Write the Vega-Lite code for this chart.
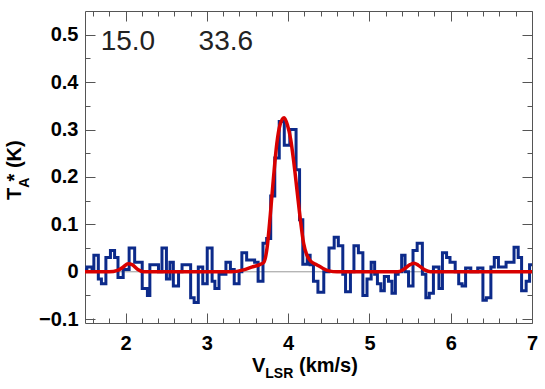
{
  "$schema": "https://vega.github.io/schema/vega-lite/v6.json",
  "width": 447,
  "height": 312,
  "autosize": "none",
  "padding": {"left": 85, "top": 11, "right": 13, "bottom": 66},
  "config": {
    "view": {"stroke": "#555", "strokeWidth": 1},
    "axis": {"domain": false, "grid": false, "tickColor": "#555", "tickWidth": 1, "labelFont": "Liberation Sans", "labelFontWeight": "bold", "labelFontSize": 20, "labelColor": "#000"},
    "text": {"font": "Liberation Sans"}
  },
  "datasets": {
    "one": [{}],
    "spectrum": [
      {"v": 1.5, "T": 0.005}, {"v": 1.523, "T": 0.01}, {"v": 1.587, "T": 0.005}, {"v": 1.609, "T": 0.035},
      {"v": 1.664, "T": -0.015}, {"v": 1.702, "T": -0.025}, {"v": 1.757, "T": 0.03}, {"v": 1.813, "T": 0.045},
      {"v": 1.864, "T": 0.03}, {"v": 1.906, "T": -0.012}, {"v": 1.97, "T": 0.005}, {"v": 2.043, "T": 0.05},
      {"v": 2.111, "T": 0.02}, {"v": 2.204, "T": -0.035}, {"v": 2.268, "T": -0.05}, {"v": 2.298, "T": 0.015},
      {"v": 2.404, "T": 0.0}, {"v": 2.447, "T": 0.05}, {"v": 2.502, "T": -0.015}, {"v": 2.545, "T": 0.02},
      {"v": 2.587, "T": -0.03}, {"v": 2.651, "T": 0.0}, {"v": 2.694, "T": 0.015}, {"v": 2.8, "T": -0.055},
      {"v": 2.843, "T": -0.065}, {"v": 2.894, "T": 0.01}, {"v": 2.949, "T": -0.025}, {"v": 3.004, "T": 0.05},
      {"v": 3.064, "T": -0.02}, {"v": 3.098, "T": -0.035}, {"v": 3.149, "T": -0.005}, {"v": 3.234, "T": 0.02},
      {"v": 3.289, "T": 0.005}, {"v": 3.336, "T": -0.025}, {"v": 3.396, "T": 0.0}, {"v": 3.43, "T": 0.04},
      {"v": 3.489, "T": 0.025}, {"v": 3.587, "T": 0.02}, {"v": 3.63, "T": -0.02}, {"v": 3.69, "T": 0.06},
      {"v": 3.735, "T": 0.07}, {"v": 3.785, "T": 0.16}, {"v": 3.835, "T": 0.24}, {"v": 3.89, "T": 0.317},
      {"v": 3.952, "T": 0.267}, {"v": 4.02, "T": 0.3}, {"v": 4.097, "T": 0.215}, {"v": 4.14, "T": 0.11},
      {"v": 4.18, "T": 0.016}, {"v": 4.235, "T": 0.035}, {"v": 4.27, "T": 0.015}, {"v": 4.311, "T": -0.02},
      {"v": 4.366, "T": -0.043}, {"v": 4.438, "T": 0.0}, {"v": 4.502, "T": 0.05}, {"v": 4.566, "T": 0.073},
      {"v": 4.617, "T": 0.055}, {"v": 4.672, "T": -0.005}, {"v": 4.706, "T": -0.042}, {"v": 4.766, "T": 0.0},
      {"v": 4.809, "T": 0.055}, {"v": 4.864, "T": 0.04}, {"v": 4.919, "T": -0.05}, {"v": 4.97, "T": -0.015},
      {"v": 5.021, "T": 0.02}, {"v": 5.064, "T": -0.005}, {"v": 5.098, "T": -0.025}, {"v": 5.14, "T": -0.04},
      {"v": 5.183, "T": -0.01}, {"v": 5.234, "T": -0.02}, {"v": 5.277, "T": -0.045}, {"v": 5.319, "T": -0.005},
      {"v": 5.353, "T": 0.0}, {"v": 5.396, "T": 0.035}, {"v": 5.438, "T": 0.0}, {"v": 5.481, "T": -0.03},
      {"v": 5.536, "T": 0.045}, {"v": 5.587, "T": 0.06}, {"v": 5.651, "T": -0.005}, {"v": 5.694, "T": -0.055},
      {"v": 5.736, "T": -0.045}, {"v": 5.787, "T": 0.01}, {"v": 5.855, "T": -0.035}, {"v": 5.898, "T": 0.04},
      {"v": 5.949, "T": 0.03}, {"v": 5.991, "T": 0.02}, {"v": 6.055, "T": 0.0}, {"v": 6.098, "T": -0.025},
      {"v": 6.14, "T": -0.03}, {"v": 6.183, "T": 0.008}, {"v": 6.247, "T": 0.0}, {"v": 6.332, "T": 0.008},
      {"v": 6.396, "T": -0.06}, {"v": 6.438, "T": -0.055}, {"v": 6.494, "T": 0.01}, {"v": 6.536, "T": 0.03},
      {"v": 6.587, "T": 0.01}, {"v": 6.681, "T": 0.02}, {"v": 6.779, "T": 0.052}, {"v": 6.83, "T": 0.03},
      {"v": 6.872, "T": -0.04}, {"v": 6.928, "T": -0.02}, {"v": 6.97, "T": 0.015}, {"v": 7.0, "T": 0.015}
    ],
    "fit": [
      {"v": 1.5, "T": 0.0}, {"v": 1.8, "T": 0.0}, {"v": 1.9, "T": 0.003}, {"v": 1.97, "T": 0.01},
      {"v": 2.03, "T": 0.017}, {"v": 2.08, "T": 0.015}, {"v": 2.15, "T": 0.005}, {"v": 2.22, "T": 0.0},
      {"v": 3.3, "T": 0.0}, {"v": 3.45, "T": 0.004}, {"v": 3.55, "T": 0.01}, {"v": 3.65, "T": 0.015},
      {"v": 3.7, "T": 0.02}, {"v": 3.74, "T": 0.05}, {"v": 3.78, "T": 0.12}, {"v": 3.82, "T": 0.2},
      {"v": 3.86, "T": 0.27}, {"v": 3.9, "T": 0.31}, {"v": 3.95, "T": 0.325}, {"v": 3.99, "T": 0.31},
      {"v": 4.03, "T": 0.28}, {"v": 4.07, "T": 0.23}, {"v": 4.11, "T": 0.17}, {"v": 4.15, "T": 0.11},
      {"v": 4.19, "T": 0.06}, {"v": 4.23, "T": 0.035}, {"v": 4.28, "T": 0.022}, {"v": 4.35, "T": 0.015},
      {"v": 4.42, "T": 0.008}, {"v": 4.5, "T": 0.002}, {"v": 4.6, "T": 0.0}, {"v": 5.35, "T": 0.0},
      {"v": 5.42, "T": 0.005}, {"v": 5.5, "T": 0.015}, {"v": 5.55, "T": 0.018}, {"v": 5.6, "T": 0.014},
      {"v": 5.68, "T": 0.004}, {"v": 5.75, "T": 0.0}, {"v": 7.0, "T": 0.0}
    ]
  },
  "layer": [
    {
      "data": {"name": "one"},
      "mark": {"type": "rule", "color": "#999", "strokeWidth": 1},
      "encoding": {
        "y": {"datum": 0, "type": "quantitative", "scale": {"domain": [-0.108, 0.55], "nice": false, "zero": false}, "axis": null}
      }
    },
    {
      "data": {"name": "spectrum"},
      "mark": {"type": "line", "interpolate": "step-after", "color": "#0c2a8a", "strokeWidth": 3},
      "encoding": {
        "x": {"field": "v", "type": "quantitative", "scale": {"domain": [1.5, 7], "nice": false, "zero": false},
          "axis": {"orient": "bottom", "title": null, "values": [1.6,1.8,2,2.2,2.4,2.6,2.8,3,3.2,3.4,3.6,3.8,4,4.2,4.4,4.6,4.8,5,5.2,5.4,5.6,5.8,6,6.2,6.4,6.6,6.8,7],
            "labelExpr": "datum.value % 1 === 0 ? format(datum.value, 'd') : ''",
            "tickSize": {"condition": {"test": "datum.value % 1 === 0", "value": -10}, "value": -5},
            "labelPadding": 20, "labelFlush": false, "labelOverlap": false}},
        "y": {"field": "T", "type": "quantitative", "scale": {"domain": [-0.108, 0.55], "nice": false, "zero": false},
          "axis": {"orient": "left", "title": null, "values": [-0.1,-0.05,0,0.05,0.1,0.15,0.2,0.25,0.3,0.35,0.4,0.45,0.5],
            "labelExpr": "(abs(datum.value*20) % 2 < 0.01 || abs(datum.value*20) % 2 > 1.99) ? format(datum.value, '.1~f') : ''",
            "tickSize": {"condition": {"test": "abs(datum.value*20) % 2 < 0.01 || abs(datum.value*20) % 2 > 1.99", "value": -10}, "value": -5},
            "labelPadding": 17, "labelFlush": false, "labelOverlap": false}}
      }
    },
    {
      "data": {"name": "fit"},
      "mark": {"type": "line", "interpolate": "monotone", "color": "#d80000", "strokeWidth": 3.5},
      "encoding": {
        "x": {"field": "v", "type": "quantitative", "scale": {"domain": [1.5, 7], "nice": false, "zero": false},
          "axis": {"orient": "top", "title": null, "labels": false, "values": [1.6,1.8,2,2.2,2.4,2.6,2.8,3,3.2,3.4,3.6,3.8,4,4.2,4.4,4.6,4.8,5,5.2,5.4,5.6,5.8,6,6.2,6.4,6.6,6.8,7],
            "tickSize": {"condition": {"test": "datum.value % 1 === 0", "value": -10}, "value": -5}}},
        "y": {"field": "T", "type": "quantitative", "scale": {"domain": [-0.108, 0.55], "nice": false, "zero": false},
          "axis": {"orient": "right", "title": null, "labels": false, "values": [-0.1,-0.05,0,0.05,0.1,0.15,0.2,0.25,0.3,0.35,0.4,0.45,0.5],
            "tickSize": {"condition": {"test": "abs(datum.value*20) % 2 < 0.01 || abs(datum.value*20) % 2 > 1.99", "value": -10}, "value": -5}}}
      }
    },
    {
      "data": {"name": "one"},
      "mark": {"type": "text", "text": "15.0", "align": "left", "baseline": "alphabetic", "fontSize": 28, "color": "#222"},
      "encoding": {
        "x": {"datum": 1.693, "type": "quantitative", "scale": {"domain": [1.5, 7], "nice": false, "zero": false}, "axis": null},
        "y": {"datum": 0.4677, "type": "quantitative", "scale": {"domain": [-0.108, 0.55], "nice": false, "zero": false}, "axis": null}
      }
    },
    {
      "data": {"name": "one"},
      "mark": {"type": "text", "text": "33.6", "align": "left", "baseline": "alphabetic", "fontSize": 28, "color": "#222"},
      "encoding": {
        "x": {"datum": 2.898, "type": "quantitative", "scale": {"domain": [1.5, 7], "nice": false, "zero": false}, "axis": null},
        "y": {"datum": 0.4677, "type": "quantitative", "scale": {"domain": [-0.108, 0.55], "nice": false, "zero": false}, "axis": null}
      }
    },
    {
      "data": {"name": "one"},
      "mark": {"type": "text", "text": "V", "align": "left", "baseline": "alphabetic", "fontSize": 20, "fontWeight": "bold", "color": "#000"},
      "encoding": {
        "x": {"datum": 3.555, "type": "quantitative", "scale": {"domain": [1.5, 7], "nice": false, "zero": false}, "axis": null},
        "y": {"datum": -0.2113, "type": "quantitative", "scale": {"domain": [-0.108, 0.55], "nice": false, "zero": false}, "axis": null}
      }
    },
    {
      "data": {"name": "one"},
      "mark": {"type": "text", "text": "LSR", "align": "left", "baseline": "alphabetic", "fontSize": 14, "fontWeight": "bold", "color": "#000"},
      "encoding": {
        "x": {"datum": 3.718, "type": "quantitative", "scale": {"domain": [1.5, 7], "nice": false, "zero": false}, "axis": null},
        "y": {"datum": -0.224, "type": "quantitative", "scale": {"domain": [-0.108, 0.55], "nice": false, "zero": false}, "axis": null}
      }
    },
    {
      "data": {"name": "one"},
      "mark": {"type": "text", "text": "(km/s)", "align": "left", "baseline": "alphabetic", "fontSize": 20, "fontWeight": "bold", "color": "#000"},
      "encoding": {
        "x": {"datum": 4.133, "type": "quantitative", "scale": {"domain": [1.5, 7], "nice": false, "zero": false}, "axis": null},
        "y": {"datum": -0.2113, "type": "quantitative", "scale": {"domain": [-0.108, 0.55], "nice": false, "zero": false}, "axis": null}
      }
    },
    {
      "data": {"name": "one"},
      "mark": {"type": "text", "text": "T", "align": "left", "baseline": "alphabetic", "angle": 270, "fontSize": 20, "fontWeight": "bold", "color": "#000"},
      "encoding": {
        "x": {"datum": 0.7125, "type": "quantitative", "scale": {"domain": [1.5, 7], "nice": false, "zero": false}, "axis": null},
        "y": {"datum": 0.1514, "type": "quantitative", "scale": {"domain": [-0.108, 0.55], "nice": false, "zero": false}, "axis": null}
      }
    },
    {
      "data": {"name": "one"},
      "mark": {"type": "text", "text": "A", "align": "left", "baseline": "alphabetic", "angle": 270, "fontSize": 14, "fontWeight": "bold", "color": "#000"},
      "encoding": {
        "x": {"datum": 0.817, "type": "quantitative", "scale": {"domain": [1.5, 7], "nice": false, "zero": false}, "axis": null},
        "y": {"datum": 0.177, "type": "quantitative", "scale": {"domain": [-0.108, 0.55], "nice": false, "zero": false}, "axis": null}
      }
    },
    {
      "data": {"name": "one"},
      "mark": {"type": "text", "text": "* (K)", "align": "left", "baseline": "alphabetic", "angle": 270, "fontSize": 20, "fontWeight": "bold", "color": "#000"},
      "encoding": {
        "x": {"datum": 0.7125, "type": "quantitative", "scale": {"domain": [1.5, 7], "nice": false, "zero": false}, "axis": null},
        "y": {"datum": 0.1905, "type": "quantitative", "scale": {"domain": [-0.108, 0.55], "nice": false, "zero": false}, "axis": null}
      }
    }
  ],
  "resolve": {"axis": {"x": "independent", "y": "independent"}}
}
